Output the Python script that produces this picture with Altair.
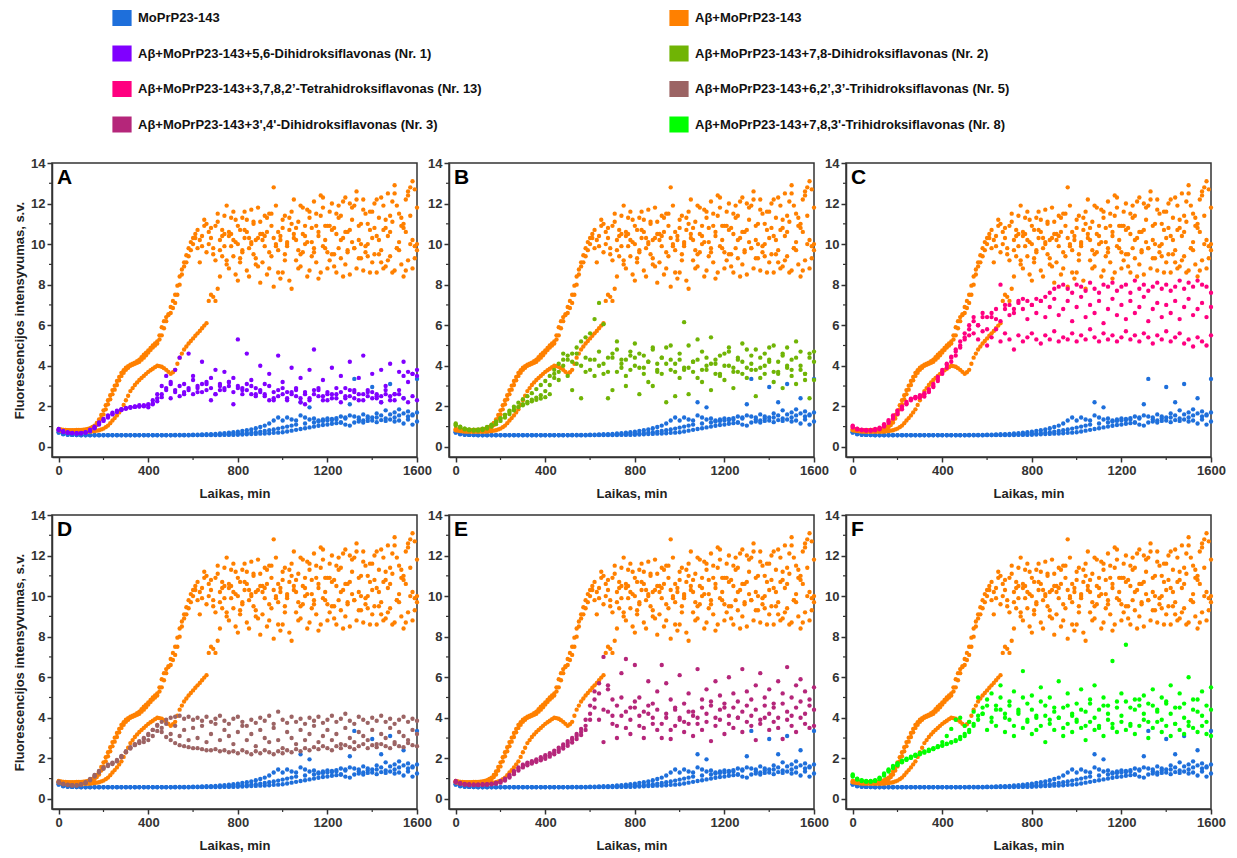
import altair as alt
import pandas as pd

# ---------------- data ----------------
T = list(range(0, 1601, 20))    # Laikas, min (sampling grid)
TH = list(range(10, 1600, 20))  # intermediate readings of the Aβ+MoPrP23-143 control

BLUE_1 = [0.75,0.66,0.62,0.60,0.59,0.58,0.58,0.58,0.58,0.58,
          0.58,0.58,0.58,0.58,0.58,0.58,0.58,0.58,0.58,0.58,
          0.58,0.58,0.58,0.58,0.58,0.58,0.59,0.59,0.59,0.59,
          0.60,0.60,0.61,0.62,0.63,0.64,0.66,0.68,0.70,0.72,
          0.75,0.78,0.82,0.86,0.92,0.98,1.05,1.15,1.30,1.45,
          1.30,1.45,1.35,1.30,1.55,1.45,1.35,1.40,1.30,1.35,
          1.40,1.38,1.42,1.50,1.45,1.55,1.50,1.45,1.60,1.50,
          1.45,1.65,1.55,1.80,1.60,1.70,1.55,1.65,1.75,1.60,
          1.70]
BLUE_2 = [0.72,0.64,0.61,0.59,0.58,0.57,0.57,0.57,0.57,0.57,
          0.57,0.57,0.57,0.57,0.57,0.57,0.57,0.57,0.57,0.57,
          0.57,0.57,0.57,0.57,0.57,0.57,0.57,0.57,0.57,0.57,
          0.58,0.58,0.59,0.59,0.60,0.60,0.61,0.62,0.63,0.64,
          0.65,0.66,0.68,0.70,0.72,0.75,0.78,0.82,0.86,0.90,
          0.95,1.00,1.05,1.10,2.20,1.15,1.95,1.20,1.25,1.28,
          1.30,1.32,1.35,1.20,1.40,2.10,3.35,1.35,1.30,1.40,
          2.95,1.45,2.20,1.40,3.10,1.45,1.85,2.40,1.50,1.55,
          3.35]
BLUE_3 = [0.70,0.62,0.60,0.59,0.58,0.58,0.58,0.58,0.58,0.58,
          0.58,0.58,0.58,0.58,0.58,0.58,0.58,0.58,0.58,0.58,
          0.58,0.58,0.58,0.58,0.58,0.58,0.58,0.58,0.58,0.58,
          0.58,0.58,0.58,0.58,0.58,0.58,0.58,0.59,0.59,0.59,
          0.60,0.61,0.62,0.63,0.64,0.65,0.66,0.67,0.69,0.70,
          0.72,0.76,0.80,0.84,0.88,0.92,0.96,1.00,1.04,1.08,
          1.10,1.14,1.17,1.20,1.10,1.05,1.20,1.25,1.20,1.28,
          1.30,1.22,1.32,1.28,1.35,1.25,1.30,1.15,1.35,1.10,
          1.25]

ORANGE_1 = [0.88,0.84,0.82,0.82,0.83,0.84,0.86,0.92,1.05,1.35,
            1.80,2.30,2.80,3.25,3.65,3.90,4.05,4.15,4.30,4.55,
            4.75,5.00,5.20,5.90,6.40,6.60,7.10,8.00,8.90,9.40,
            10.00,9.80,10.40,9.60,10.80,9.20,10.20,9.90,10.60,9.40,
            10.90,9.70,11.20,10.10,9.00,10.50,11.40,9.60,10.30,8.60,
            10.80,9.90,11.00,10.20,9.50,10.90,11.60,9.80,10.40,12.30,
            9.60,10.70,11.50,9.30,10.60,12.00,9.80,10.90,11.70,9.40,
            10.30,12.20,9.10,10.80,11.40,12.50,9.70,11.00,12.40,10.20,
            11.80]
ORANGE_2 = [0.82,0.78,0.76,0.75,0.75,0.75,0.75,0.76,0.78,0.82,
            0.90,1.05,1.30,1.55,1.85,2.30,2.75,3.05,3.30,3.50,
            3.70,3.85,4.00,3.95,3.80,3.60,3.80,4.40,4.80,5.10,
            5.35,5.60,5.85,6.10,7.50,7.20,8.40,10.50,8.80,10.20,
            8.20,9.60,8.70,10.00,9.30,8.10,9.90,8.80,7.90,9.70,
            8.60,10.10,7.80,9.20,8.90,10.00,8.70,9.60,8.30,9.90,
            8.80,9.50,8.60,10.20,9.00,8.50,9.80,9.30,8.70,10.00,
            9.10,8.60,9.70,8.90,9.40,8.70,10.10,8.40,9.20,8.80,
            9.70]
ORANGE_3 = [0.86,0.83,0.81,0.80,0.80,0.81,0.83,0.88,0.98,1.20,
            1.60,2.10,2.60,3.05,3.50,3.80,4.00,4.10,4.20,4.40,
            4.65,4.90,5.10,5.50,6.20,6.90,7.50,8.40,9.10,9.80,
            10.30,10.70,9.90,11.00,10.30,10.90,9.70,11.40,10.40,11.60,
            10.00,11.30,10.60,11.70,10.20,11.10,10.40,11.50,12.80,10.60,
            11.20,10.00,11.60,10.80,11.90,10.40,11.30,12.10,10.60,11.80,
            10.90,12.00,10.50,11.40,12.30,10.70,11.90,10.20,12.20,11.00,
            11.60,10.40,12.30,11.20,10.60,12.90,11.50,10.80,12.60,13.10,
            10.00]
# the same three control replicates, readings in between (t = 10, 30, ... 1590)
ORANGE_1H = [0.86,0.83,0.82,0.82,0.83,0.85,0.89,0.98,1.18,1.57,
             2.05,2.55,3.02,3.45,3.78,3.98,4.10,4.22,4.42,4.65,
             4.88,5.10,5.50,6.20,6.50,6.85,7.50,8.50,9.10,9.70,
             10.30,9.10,10.90,10.00,9.50,11.10,10.40,9.20,11.30,10.10,
             9.30,10.70,9.80,11.10,10.30,9.10,10.60,11.50,9.90,10.40,
             9.20,11.30,10.50,9.70,11.80,10.10,9.40,10.90,11.40,9.80,
             10.90,9.50,11.90,10.30,9.70,11.20,12.20,10.00,9.60,11.60,
             10.80,9.50,11.90,10.40,12.10,9.80,11.30,10.60,12.80,9.90]
ORANGE_2H = [0.80,0.77,0.75,0.75,0.75,0.75,0.75,0.77,0.80,0.86,
             0.97,1.17,1.42,1.70,2.07,2.52,2.90,3.18,3.40,3.60,
             3.78,3.93,3.98,3.88,3.70,3.68,4.10,4.60,4.95,5.22,
             5.48,5.72,5.98,7.20,7.40,7.80,9.40,9.00,9.90,8.50,
             9.10,10.30,8.40,9.50,8.90,10.20,8.50,9.40,10.00,8.30,
             9.50,8.20,10.30,8.80,9.60,8.40,10.10,9.10,8.60,10.20,
             9.20,8.90,9.80,8.40,9.60,10.10,8.80,9.30,9.90,8.60,
             9.50,10.20,8.80,9.20,8.60,9.80,9.00,8.70,10.00,9.30]
ORANGE_3H = [0.84,0.82,0.80,0.80,0.80,0.82,0.85,0.93,1.08,1.40,
             1.85,2.35,2.82,3.28,3.65,3.90,4.05,4.15,4.30,4.52,
             4.78,5.00,5.30,5.85,6.55,7.20,7.95,8.75,9.45,10.10,
             10.50,10.20,11.20,10.60,9.80,11.50,10.70,11.90,10.50,11.20,
             10.70,11.60,10.30,11.00,11.80,10.50,11.30,10.90,11.90,10.20,
             11.40,10.70,12.20,11.10,10.50,11.70,10.80,11.50,12.40,10.90,
             11.60,10.80,11.30,12.10,10.60,11.80,12.60,11.00,11.50,10.70,
             12.00,11.30,10.70,12.50,11.10,11.90,10.90,12.20,11.40,12.70]

# A: 5,6-Dihidroksiflavonas (Nr. 1)
NR1_1 = [0.85,0.75,0.70,0.68,0.67,0.67,0.70,0.78,0.92,1.10,
         1.28,1.45,1.60,1.72,1.82,1.90,1.95,1.98,2.00,2.02,
         2.05,2.10,2.25,2.45,2.80,3.10,2.70,3.00,2.60,2.90,
         3.30,2.70,3.10,2.80,3.40,2.60,3.00,2.90,3.20,2.70,
         3.00,2.80,3.10,2.60,2.90,2.70,2.50,3.00,2.40,2.80,
         2.60,2.30,2.70,2.50,2.20,2.60,2.40,2.80,2.50,2.30,
         2.70,2.40,2.60,2.20,2.50,2.80,2.40,2.60,2.30,2.50,
         2.70,2.40,2.20,2.60,2.50,2.30,2.60,2.40,2.20,2.50,
         2.30]
NR1_2 = [0.88,0.78,0.72,0.69,0.68,0.69,0.73,0.85,1.00,1.20,
         1.38,1.55,1.68,1.78,1.86,1.92,1.96,2.00,2.05,2.00,
         2.10,2.30,2.60,3.00,3.50,2.40,3.80,4.40,2.70,4.60,
         3.50,2.90,4.20,3.20,2.30,3.80,2.80,3.70,3.20,2.10,
         5.30,2.90,4.60,3.30,2.50,4.00,3.10,3.60,2.30,4.50,
         3.20,2.70,3.90,2.90,3.40,2.10,3.80,4.80,2.90,3.30,
         2.60,3.90,2.90,3.50,2.40,4.20,2.80,3.40,4.50,2.70,
         3.60,2.50,3.80,3.00,4.10,2.60,3.70,4.20,3.20,3.60,
         3.80]
NR1_3 = [0.82,0.73,0.69,0.67,0.66,0.67,0.71,0.80,0.95,1.15,
         1.32,1.50,1.63,1.75,1.84,1.88,1.93,1.97,1.99,2.05,
         1.95,2.15,2.40,2.60,2.90,3.20,2.80,2.50,3.10,2.80,
         2.60,3.00,2.70,3.10,2.90,2.60,3.10,2.80,3.00,3.40,
         2.90,2.60,2.80,3.00,2.60,2.80,2.60,2.30,2.70,2.50,
         2.90,2.40,2.60,2.80,2.40,2.70,2.30,2.60,2.80,2.50,
         2.30,2.60,2.40,2.70,2.90,2.50,2.70,2.30,2.60,2.80,
         2.40,2.60,2.50,2.80,2.30,2.60,2.80,3.50,3.70,3.60,
         3.50]

# B: 7,8-Dihidroksiflavonas (Nr. 2)
NR2_1 = [1.15,1.00,0.90,0.85,0.83,0.84,0.88,0.96,1.08,1.22,
         1.40,1.58,1.78,1.98,2.18,2.35,2.50,2.65,2.85,3.05,
         3.25,3.50,3.80,4.10,4.30,4.50,4.20,4.60,4.00,4.40,
         3.80,4.30,4.70,4.10,3.70,4.40,4.80,3.90,4.30,4.50,
         4.00,4.60,3.60,4.20,4.90,3.80,4.40,4.10,5.00,3.70,
         4.30,6.15,3.90,4.20,5.30,3.80,4.40,4.10,3.60,4.50,
         4.00,4.70,3.90,4.30,3.60,4.80,4.10,3.80,4.40,4.00,
         4.90,3.70,4.20,4.60,3.90,4.30,5.20,4.00,3.60,4.40,
         4.70]
NR2_2 = [1.05,0.95,0.86,0.82,0.80,0.80,0.83,0.90,1.00,1.12,
         1.28,1.45,1.62,1.80,1.96,2.10,2.22,2.33,2.43,2.55,
         2.75,3.05,3.40,3.70,4.00,4.30,4.60,4.90,5.20,5.40,
         5.60,6.30,7.10,6.05,2.40,4.60,5.20,4.30,3.50,4.70,
         5.10,3.90,4.50,3.20,4.80,4.10,3.60,4.90,4.30,2.50,
         4.60,3.80,5.00,4.20,3.40,4.70,4.00,5.40,4.30,3.50,
         4.60,4.90,3.70,4.40,5.10,3.90,4.50,4.80,3.40,4.60,
         4.20,5.00,3.60,4.50,4.90,3.80,4.40,4.70,3.30,4.60,
         4.20]
NR2_3 = [1.10,0.98,0.90,0.86,0.85,0.86,0.90,0.98,1.10,1.25,
         1.42,1.58,1.72,1.85,1.96,2.05,2.15,2.25,2.32,2.38,
         2.45,2.60,3.60,3.30,4.60,3.50,2.80,4.10,2.40,3.70,
         4.30,3.50,4.00,3.60,4.40,2.80,3.70,4.10,3.00,3.80,
         4.40,2.60,3.90,4.20,3.00,3.70,4.40,2.20,3.80,4.10,
         3.40,3.90,2.60,3.70,4.30,3.20,3.80,2.80,4.10,3.60,
         3.30,4.00,2.90,3.70,4.20,3.40,3.80,2.50,3.90,3.60,
         4.30,3.20,3.70,2.90,4.00,3.50,3.10,3.80,3.60,2.40,
         3.30]

# C: 3,7,8,2'-Tetrahidroksiflavonas (Nr. 13)
NR13_1 = [1.00,0.88,0.84,0.82,0.82,0.84,0.90,1.05,1.25,1.48,
          1.70,1.92,2.15,2.35,2.45,2.50,2.60,2.75,2.95,3.25,
          3.60,3.90,4.20,4.50,4.90,5.40,5.80,6.20,6.00,6.40,
          6.40,6.60,6.30,8.00,6.80,7.00,6.80,7.10,7.30,7.20,
          7.00,7.30,7.20,7.40,7.60,7.80,7.90,8.00,7.80,7.60,
          8.00,7.90,7.70,8.10,7.80,7.60,8.00,7.90,8.10,7.70,
          7.90,8.00,7.60,8.20,7.80,8.00,7.70,7.90,8.10,7.80,
          8.00,7.70,7.90,8.20,7.80,8.10,7.90,8.20,8.00,7.90,
          7.60]
NR13_2 = [0.95,0.86,0.82,0.80,0.80,0.82,0.87,1.00,1.18,1.40,
          1.62,1.85,2.10,2.30,2.40,2.42,2.48,2.70,3.00,3.35,
          3.70,4.05,4.40,4.80,5.20,5.60,6.00,6.40,6.00,6.60,
          5.80,6.40,6.80,6.20,7.00,6.50,6.60,7.20,6.80,6.30,
          7.00,6.60,7.20,6.40,6.90,7.30,6.50,6.80,7.20,6.20,
          6.90,7.40,6.40,7.00,6.60,7.20,6.10,6.80,7.30,6.50,
          7.00,6.30,7.20,6.60,6.90,7.40,6.20,6.80,7.10,6.40,
          7.00,6.60,7.20,6.30,6.90,7.30,6.50,6.80,7.10,6.40,
          6.90]
NR13_3 = [1.05,0.90,0.85,0.83,0.84,0.88,0.95,1.12,1.32,1.55,
          1.78,2.00,2.22,2.38,2.46,2.55,2.65,2.85,3.10,3.45,
          3.80,4.10,4.45,4.70,5.00,5.30,5.50,5.60,5.30,5.70,
          5.00,5.40,5.80,5.20,5.60,5.30,4.80,5.50,5.20,5.40,
          5.60,5.30,5.10,5.50,5.30,5.70,5.20,5.40,5.30,5.60,
          5.20,5.50,5.30,5.80,5.40,5.20,5.60,5.30,5.50,5.20,
          5.40,5.70,5.30,5.50,5.20,5.60,5.40,5.10,5.50,5.30,
          5.70,5.20,5.40,5.60,5.10,5.30,4.95,5.40,5.20,5.00,
          5.50]

# D: 6,2',3'-Trihidroksiflavonas (Nr. 5)
NR5_1 = [0.85,0.75,0.70,0.68,0.68,0.72,0.82,0.98,1.18,1.38,
         1.55,1.68,1.78,1.92,2.12,2.35,2.55,2.68,2.75,2.80,
         2.90,3.10,3.35,3.30,3.05,2.90,2.75,2.65,2.60,2.55,
         2.50,2.50,2.45,2.40,2.40,2.45,2.35,2.40,2.30,2.35,
         2.25,2.40,2.30,2.20,2.35,2.25,2.40,2.30,2.20,2.35,
         2.25,2.40,2.30,2.45,2.35,2.50,2.40,2.55,2.45,2.60,
         2.50,2.40,2.60,2.50,2.65,2.55,2.45,2.60,2.70,2.50,
         2.65,2.55,2.70,2.60,2.50,2.70,2.60,2.55,2.75,2.65,
         2.60]
NR5_2 = [0.80,0.72,0.68,0.66,0.66,0.70,0.78,0.92,1.10,1.30,
         1.48,1.62,1.72,1.85,2.05,2.30,2.48,2.65,2.80,2.95,
         3.15,3.40,3.65,3.80,3.90,4.00,4.05,4.10,3.95,4.05,
         3.90,4.00,3.85,4.05,3.80,3.95,4.10,3.85,3.70,3.95,
         4.05,3.80,3.60,3.90,3.75,4.00,3.85,4.10,3.70,4.30,
         3.90,3.75,4.05,3.80,3.95,3.70,4.00,3.85,4.05,3.75,
         3.90,4.10,3.80,3.95,4.20,3.85,3.70,4.05,3.90,3.75,
         4.00,3.85,4.10,3.80,3.95,3.70,3.90,4.05,3.80,3.95,
         3.85]
NR5_3 = [0.82,0.73,0.69,0.67,0.67,0.71,0.80,0.95,1.14,1.34,
         1.52,1.66,1.76,1.88,2.08,2.32,2.52,2.70,2.85,3.00,
         3.20,3.40,3.60,3.50,3.70,3.20,3.60,3.10,3.40,2.90,
         3.50,3.00,3.60,2.80,3.20,3.70,2.90,3.40,3.10,2.70,
         3.30,3.60,2.90,3.20,2.60,3.40,3.00,2.80,3.50,2.90,
         2.50,3.30,3.00,2.70,3.40,2.90,3.20,3.60,2.80,3.10,
         3.40,2.90,3.20,2.70,3.50,3.00,2.80,3.30,3.10,2.90,
         3.40,2.70,3.20,3.00,3.50,2.80,3.30,3.10,2.90,3.40,
         3.20]

# E: 3',4'-Dihidroksiflavonas (Nr. 3)
NR3_1 = [0.88,0.78,0.74,0.72,0.71,0.71,0.72,0.73,0.75,0.80,
         0.88,1.00,1.18,1.38,1.55,1.68,1.78,1.86,1.95,2.05,
         2.15,2.25,2.38,2.52,2.68,2.85,3.00,3.20,3.45,3.90,
         4.60,5.30,5.70,7.00,5.40,4.90,4.60,6.20,6.90,4.50,
         6.60,5.00,4.30,5.80,4.70,5.30,6.60,5.70,4.90,4.40,
         6.10,4.70,5.20,4.30,6.40,4.90,5.40,4.60,5.80,5.10,
         4.50,6.00,5.20,4.80,6.40,5.30,4.90,5.60,6.20,5.00,
         5.40,4.70,5.80,5.20,6.50,5.00,5.60,5.90,5.30,4.90,
         5.50]
NR3_2 = [0.85,0.76,0.72,0.70,0.69,0.69,0.70,0.71,0.73,0.77,
         0.84,0.95,1.10,1.30,1.48,1.62,1.72,1.80,1.88,1.97,
         2.06,2.16,2.28,2.42,2.58,2.75,2.92,3.10,3.30,3.60,
         4.20,4.90,5.20,4.40,5.60,4.10,3.60,5.00,4.30,3.90,
         4.80,4.10,3.50,4.60,4.00,4.40,3.70,4.20,3.40,4.50,
         4.00,3.80,4.30,4.10,3.70,4.50,4.20,4.80,4.00,4.40,
         4.70,4.10,4.50,4.00,4.30,4.60,4.10,4.40,3.90,4.60,
         4.20,4.50,4.00,4.70,4.30,4.10,4.50,4.80,4.20,4.60,
         4.40]
NR3_3 = [0.82,0.74,0.70,0.68,0.68,0.68,0.69,0.70,0.72,0.75,
         0.80,0.90,1.05,1.22,1.40,1.55,1.66,1.74,1.82,1.90,
         1.98,2.08,2.20,2.32,2.48,2.62,2.78,2.95,3.15,3.40,
         3.90,4.50,3.90,2.80,4.30,3.70,3.00,4.10,3.50,3.20,
         4.50,3.60,3.00,4.20,3.70,3.40,3.00,4.00,2.95,3.60,
         3.90,3.30,3.70,3.10,4.00,3.40,3.80,2.85,3.60,3.90,
         3.20,3.70,3.50,4.00,3.30,3.80,3.60,2.90,3.70,4.00,
         3.40,3.80,3.50,2.95,3.90,3.60,3.30,4.00,3.70,3.50,
         3.60]

# F: 7,8,3'-Trihidroksiflavonas (Nr. 8)
NR8_1 = [1.20,1.00,0.92,0.88,0.88,0.92,1.05,1.25,1.45,1.62,
         1.76,1.88,1.98,2.08,2.18,2.26,2.34,2.42,2.50,2.58,
         2.65,2.72,2.80,2.90,3.05,3.20,3.40,3.70,4.10,4.50,
         4.90,5.20,4.60,5.60,4.20,4.80,5.30,4.40,6.30,4.70,
         5.10,4.00,5.50,4.60,5.00,4.30,5.80,4.50,5.20,4.10,
         4.70,5.40,4.30,4.90,5.60,4.40,5.00,4.60,6.80,4.80,
         5.20,7.60,4.50,4.90,4.60,5.10,4.70,5.40,4.40,5.00,
         4.80,5.60,4.50,5.20,4.70,6.00,4.90,4.30,5.30,4.60,
         5.50]
NR8_2 = [1.10,0.95,0.88,0.85,0.85,0.88,0.98,1.15,1.35,1.52,
         1.66,1.80,1.92,2.02,2.12,2.20,2.28,2.36,2.45,2.60,
         2.80,3.10,3.45,3.90,4.00,3.60,3.80,4.30,5.00,4.20,
         4.60,3.80,4.40,5.00,4.00,4.60,3.60,4.30,5.00,3.90,
         4.40,3.40,4.80,4.10,3.70,4.50,4.00,3.50,4.60,4.20,
         3.80,4.40,3.60,4.70,4.00,3.50,4.60,4.20,3.70,4.50,
         4.10,4.80,3.60,4.40,4.90,4.20,3.80,4.60,4.30,3.90,
         4.70,4.20,3.70,4.50,4.00,3.60,4.40,4.90,4.10,3.80,
         4.40]
NR8_3 = [1.15,0.98,0.90,0.86,0.86,0.90,1.02,1.20,1.40,1.57,
         1.71,1.84,1.95,2.05,2.15,2.23,2.31,2.39,2.47,2.55,
         2.62,2.70,2.78,2.85,2.95,3.10,3.30,3.60,3.90,4.20,
         3.40,4.00,3.60,4.40,3.30,3.90,3.10,4.20,3.50,3.80,
         3.20,4.10,3.60,2.80,3.90,3.40,4.00,3.10,3.70,3.30,
         3.90,3.50,2.90,3.80,3.40,3.60,3.10,3.90,3.50,3.30,
         3.80,3.40,3.70,3.20,3.60,3.90,3.00,3.50,3.80,3.30,
         3.60,3.10,3.70,3.40,3.20,3.80,3.50,3.30,3.60,3.20,
         3.10]

S_BLUE = "MoPrP23-143"
S_ORANGE = "Aβ+MoPrP23-143"
S_NR1 = "Aβ+MoPrP23-143+5,6-Dihidroksiflavonas (Nr. 1)"
S_NR2 = "Aβ+MoPrP23-143+7,8-Dihidroksiflavonas (Nr. 2)"
S_NR13 = "Aβ+MoPrP23-143+3,7,8,2’-Tetrahidroksiflavonas (Nr. 13)"
S_NR5 = "Aβ+MoPrP23-143+6,2’,3’-Trihidroksiflavonas (Nr. 5)"
S_NR3 = "Aβ+MoPrP23-143+3',4'-Dihidroksiflavonas (Nr. 3)"
S_NR8 = "Aβ+MoPrP23-143+7,8,3'-Trihidroksiflavonas (Nr. 8)"

# legend order (filled column by column, two columns)
SERIES = [S_BLUE, S_NR1, S_NR13, S_NR3, S_ORANGE, S_NR2, S_NR5, S_NR8]
COLORS = ["#1E6FDB", "#8000FF", "#FF0080", "#B5267A",
          "#FF8000", "#70B405", "#9C6464", "#00FF00"]

PANELS = [("A", S_NR1, [NR1_1, NR1_2, NR1_3]),
          ("B", S_NR2, [NR2_1, NR2_2, NR2_3]),
          ("C", S_NR13, [NR13_1, NR13_2, NR13_3]),
          ("D", S_NR5, [NR5_1, NR5_2, NR5_3]),
          ("E", S_NR3, [NR3_1, NR3_2, NR3_3]),
          ("F", S_NR8, [NR8_1, NR8_2, NR8_3])]

X_TICKS = [0, 400, 800, 1200, 1600]
X_MINOR = [200, 600, 1000, 1400]
Y_TICKS = [0, 2, 4, 6, 8, 10, 12, 14]
Y_MINOR = [1, 3, 5, 7, 9, 11, 13]

FONT = "Liberation Sans"
W, H = 365, 294
XSCALE = alt.Scale(domain=[-30, 1600], nice=False, zero=False)
YSCALE = alt.Scale(domain=[-0.5, 14], nice=False, zero=False)
X_AXIS = alt.Axis(values=X_TICKS, title="Laikas, min", format="d")
Y_TITLE = "Fluorescencijos intensyvumas, s.v."


def series_frame(name, parts):
    rows = []
    for times, vals in parts:
        assert len(vals) == len(times), (name, len(vals))
        rows += [{"t": t, "v": v, "s": name} for t, v in zip(times, vals)]
    return pd.DataFrame(rows)


BLUE_DF = series_frame(S_BLUE, [(T, BLUE_1), (T, BLUE_2), (T, BLUE_3)])
ORANGE_DF = series_frame(S_ORANGE, [(T, ORANGE_1), (T, ORANGE_2), (T, ORANGE_3),
                                    (TH, ORANGE_1H), (TH, ORANGE_2H), (TH, ORANGE_3H)])


def panel(letter, cname, reps, left):
    y_axis = alt.Axis(values=Y_TICKS, format="d",
                      title=Y_TITLE if left else None)
    df = pd.concat([BLUE_DF, ORANGE_DF,
                    series_frame(cname, [(T, r) for r in reps])],
                   ignore_index=True)
    pts = alt.Chart(df).mark_circle(size=19, opacity=1).encode(
        x=alt.X("t:Q", scale=XSCALE, axis=X_AXIS),
        y=alt.Y("v:Q", scale=YSCALE, axis=y_axis),
        color=alt.Color("s:N", scale=alt.Scale(domain=SERIES, range=COLORS),
                        legend=alt.Legend(title=None, orient="none",
                                          legendX=62, legendY=-153,
                                          columns=2, columnPadding=187,
                                          rowPadding=19.5, padding=0,
                                          symbolType="M-1.2,-1H1.2V1H-1.2Z",
                                          symbolSize=256, symbolStrokeWidth=0,
                                          symbolOpacity=1,
                                          labelFont=FONT, labelFontSize=13,
                                          labelFontWeight="bold",
                                          labelColor="#111111",
                                          labelLimit=600, labelOffset=8)),
    )
    minor_x = alt.Chart(pd.DataFrame({"t": X_MINOR})).mark_rule(
        color="#333333", strokeWidth=1.2).encode(
        x=alt.X("t:Q", scale=XSCALE, axis=X_AXIS),
        y=alt.value(H), y2=alt.value(H + 3))
    minor_y = alt.Chart(pd.DataFrame({"v": Y_MINOR})).mark_rule(
        color="#333333", strokeWidth=1.2).encode(
        y=alt.Y("v:Q", scale=YSCALE, axis=y_axis),
        x=alt.value(0), x2=alt.value(-3))
    tag = alt.Chart(pd.DataFrame({"k": [letter]})).mark_text(
        align="left", baseline="top", font=FONT, fontSize=21,
        fontWeight="bold", color="#000000").encode(
        text="k:N", x=alt.value(5), y=alt.value(4))
    return alt.layer(pts, minor_x, minor_y, tag).properties(width=W, height=H)


charts = [panel(l, c, r, i % 3 == 0) for i, (l, c, r) in enumerate(PANELS)]

chart = alt.concat(*charts, columns=3, spacing={"row": 58, "column": 32},
                   bounds="flush").properties(
    padding={"left": 12, "top": 10, "right": 5, "bottom": 5},
    background="white",
).configure_view(
    stroke="#333333", strokeWidth=1.5
).configure_axis(
    grid=False, labelFont=FONT, labelFontSize=13, labelFontWeight="bold",
    labelColor="#333333", labelFlush=False, labelPadding=2,
    titleFont=FONT, titleFontSize=13, titleFontWeight="bold",
    titleColor="#222222", domainColor="#333333", domainWidth=1.5,
    tickColor="#333333", tickWidth=1.5, tickSize=5
).configure_axisX(titlePadding=10).configure_axisY(titlePadding=4)

chart.save("out.html", embed_options={"renderer": "svg", "actions": False})
